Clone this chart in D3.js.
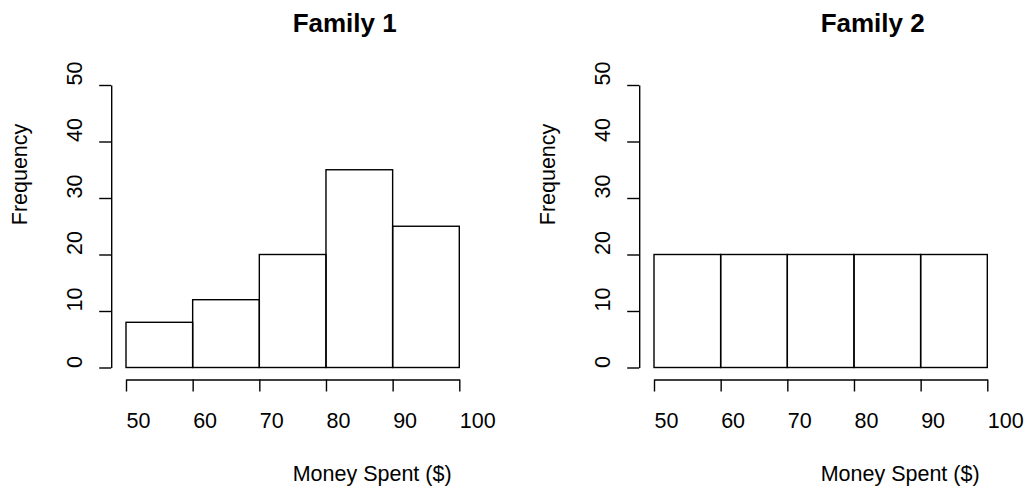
<!DOCTYPE html>
<html><head><meta charset="utf-8">
<script src="https://cdn.jsdelivr.net/npm/d3@7"></script>
<style>body{margin:0;background:#fff}svg{display:block}text{font-family:"Liberation Sans",Arial,Helvetica,sans-serif;fill:#000}</style>
</head><body><svg id="c" width="1029" height="494"></svg>
<script>
const binEdges = [50, 60, 70, 80, 90, 100];
const family1 = [8, 12, 20, 35, 25];
const family2 = [20, 20, 20, 20, 20];
const titles = ["Family 1", "Family 2"];
const yTicks = [0, 10, 20, 30, 40, 50];
const xTicks = [50, 60, 70, 80, 90, 100];
const xLabel = "Money Spent ($)";
const yLabel = "Frequency";

const FS = 21.5, FT = 26;
const svg = d3.select("#c");
const panels = [
  {data: family1, title: titles[0], x0: 126, x1: 459.3},
  {data: family2, title: titles[1], x0: 654, x1: 987.3}
];
const yTop = 85, yBot = 367.5;

panels.forEach(p => {
  const x = d3.scaleLinear().domain([50, 100]).range([p.x0, p.x1]);
  const y = d3.scaleLinear().domain([0, 50]).range([yBot, yTop]);
  const g = svg.append("g");
  const bins = p.data.map((v, i) => ({lo: binEdges[i], hi: binEdges[i+1], v}));
  g.selectAll("rect").data(bins).join("rect")
    .attr("x", d => x(d.lo)).attr("width", d => x(d.hi) - x(d.lo))
    .attr("y", d => y(d.v)).attr("height", d => y(0) - y(d.v))
    .attr("fill", "none").attr("stroke", "#000").attr("stroke-width", 1.4);

  const ax = p.x0 - 14.8;

  // x axis
  const xa = g.append("g").attr("transform", "translate(0,379.5)")
    .call(d3.axisBottom(x).tickValues(xTicks).tickSize(12).tickSizeOuter(0));
  xa.select(".domain").attr("stroke-width", 1.4);
  xa.selectAll(".tick line").attr("stroke-width", 1.4);
  xa.selectAll(".tick text").attr("y", 48).attr("dy", null)
    .attr("text-anchor", "start").attr("font-size", FS)
    .attr("font-family", "Liberation Sans, Arial, sans-serif");

  // y axis
  const ya = g.append("g").attr("transform", `translate(${ax},0)`)
    .call(d3.axisLeft(y).tickValues(yTicks).tickSize(12).tickSizeOuter(0));
  ya.select(".domain").attr("stroke-width", 1.4);
  ya.selectAll(".tick line").attr("stroke-width", 1.4);
  ya.selectAll(".tick text").attr("x", null).attr("dy", null)
    .attr("transform", `translate(${81.7 - 111 + 0.2},0) rotate(-90)`)
    .attr("text-anchor", "start")
    .attr("font-size", FS).attr("font-family", "Liberation Sans, Arial, sans-serif");

  const cx = (p.x0 + p.x1) / 2;
  g.append("text").attr("x", cx).attr("y", 32).attr("text-anchor", "start")
    .attr("font-size", FT).attr("font-weight", "bold").text(p.title);
  g.append("text").attr("x", cx).attr("y", 480.5).attr("text-anchor", "start")
    .attr("font-size", FS).text(xLabel);
  g.append("text").attr("transform", `translate(${ax - 84.5},${(yTop + yBot) / 2 - 1}) rotate(-90)`)
    .attr("text-anchor", "start")
    .attr("font-size", FS).text(yLabel);
});
</script></body></html>
